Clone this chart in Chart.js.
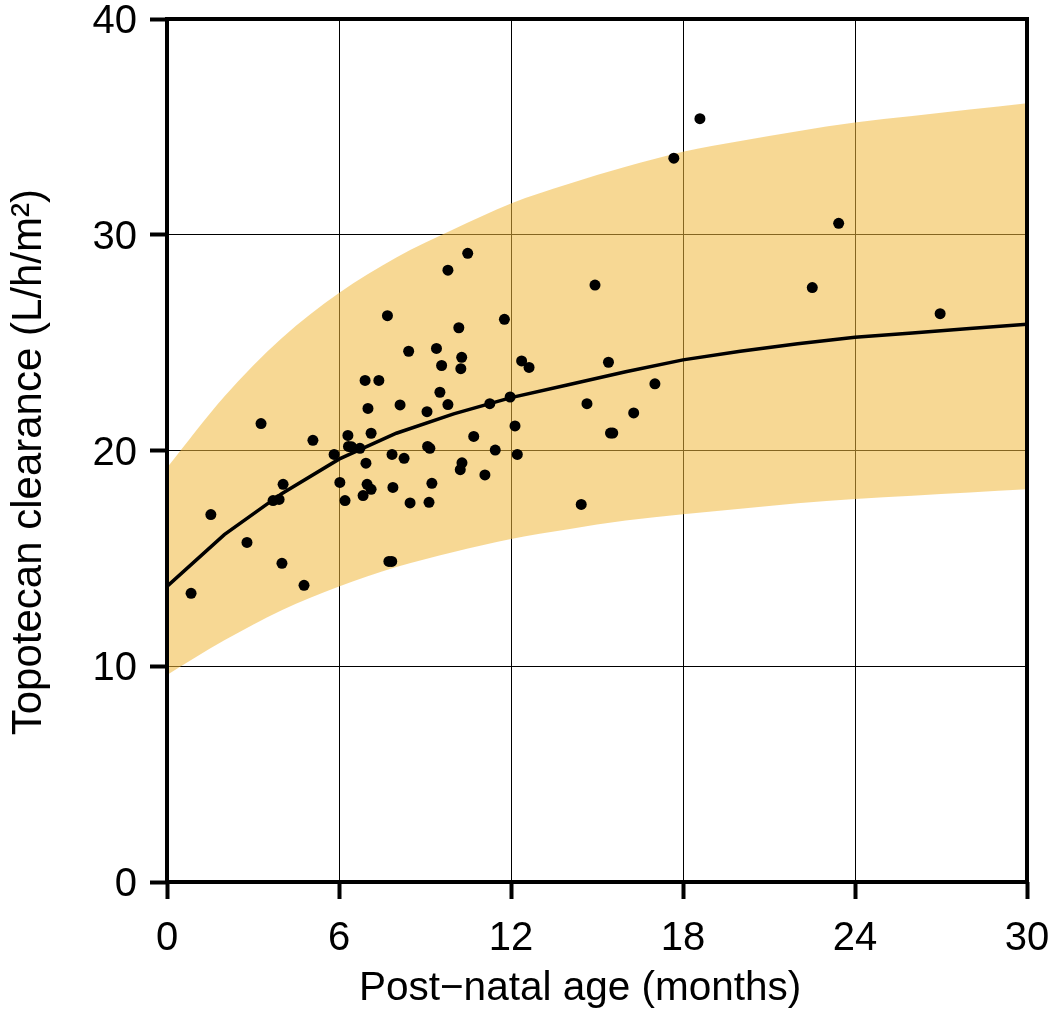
<!DOCTYPE html>
<html>
<head>
<meta charset="utf-8">
<script src="https://cdn.jsdelivr.net/npm/chart.js@4.4.1/dist/chart.umd.min.js"></script>
<style>
html,body{margin:0;padding:0;background:#fff;}
#wrap{width:1050px;height:1025px;}
</style>
</head>
<body>
<div id="wrap"><canvas id="c" width="1050" height="1025"></canvas></div>
<script>
// ---- data ----
const xTicks = [0, 6, 12, 18, 24, 30];
const yTicks = [0, 10, 20, 30, 40];
const xTitle = 'Post\u2212natal age (months)   ';
const yTitle = 'Topotecan clearance (L/h/m\u00B2)  ';

// observed individual clearances
const ageMonths = [0.84, 1.53, 2.79, 3.28, 3.70, 3.91, 4.05, 4.01, 4.78, 5.09,
  5.83, 6.03, 6.21, 6.31, 6.33, 6.44, 6.73, 6.84, 6.91, 6.94,
  6.98, 7.01, 7.12, 7.12, 7.39, 7.69, 7.74, 7.84, 7.85, 7.88,
  8.13, 8.27, 8.43, 8.48, 9.07, 9.09, 9.17, 9.14, 9.24, 9.40,
  9.58, 9.52, 9.80, 9.80, 10.18, 10.28, 10.25, 10.29, 10.23, 10.49,
  10.70, 11.09, 11.26, 11.45, 11.77, 11.97, 12.14, 12.22, 12.37, 12.63,
  14.45, 14.65, 14.93, 15.40, 15.47, 15.55, 16.28, 17.02, 17.68, 18.59,
  22.51, 23.43, 26.97];
const clearance = [13.38, 17.03, 15.74, 21.25, 17.68, 17.73, 18.43, 14.77, 13.75, 20.47,
  19.82, 18.52, 17.68, 20.70, 20.19, 20.17, 20.10, 17.91, 23.25, 19.41,
  18.43, 21.95, 20.80, 18.20, 23.25, 26.25, 14.86, 14.86, 19.82, 18.29,
  22.11, 19.64, 24.60, 17.57, 21.80, 20.19, 20.10, 17.60, 18.48, 24.73,
  23.94, 22.70, 22.13, 28.36, 25.69, 24.32, 23.79, 19.43, 19.11, 29.14,
  20.65, 18.87, 22.17, 20.02, 26.08, 22.48, 21.14, 19.82, 24.15, 23.85,
  17.50, 22.17, 27.67, 24.09, 20.81, 20.81, 21.74, 23.09, 33.55, 35.38,
  27.55, 30.53, 26.34];

// model curve and prediction band
const curveAge = [0, 2, 4, 6, 8, 10, 12, 14, 16, 18, 20, 22, 24, 26, 28, 30];
const medianCL = [13.7, 16.1, 18.0, 19.6, 20.8, 21.7, 22.45, 23.05, 23.65, 24.2, 24.6, 24.95, 25.25, 25.45, 25.65, 25.85];
const upperCL  = [19.2, 22.5, 25.2, 27.3, 28.95, 30.25, 31.45, 32.35, 33.15, 33.85, 34.35, 34.8, 35.2, 35.5, 35.8, 36.1];
const lowerCL  = [9.6, 11.2, 12.6, 13.7, 14.6, 15.3, 15.9, 16.35, 16.75, 17.05, 17.3, 17.55, 17.75, 17.9, 18.05, 18.2];

// ---- build ----
const toXY = (xs, ys) => xs.map((x, i) => ({x: x, y: ys[i]}));
const FONT = "'Liberation Sans', Arial, Helvetica, sans-serif";
Chart.defaults.font.family = FONT;
Chart.defaults.color = '#000';

const framePlugin = {
  id: 'frame',
  afterDatasetsDraw(chart) {
    const {ctx, chartArea: a} = chart;
    ctx.save();
    ctx.strokeStyle = '#000';
    ctx.lineWidth = 4;
    ctx.strokeRect(a.left, a.top, a.right - a.left, a.bottom - a.top);
    ctx.restore();
  }
};

new Chart(document.getElementById('c'), {
  type: 'scatter',
  data: {
    datasets: [
      {
        label: 'Observed',
        data: toXY(ageMonths, clearance),
        pointRadius: 5.5,
        pointBackgroundColor: '#000',
        pointBorderWidth: 0,
        showLine: false,
        order: 0
      },
      {
        label: 'Median',
        type: 'line',
        data: toXY(curveAge, medianCL),
        borderColor: '#000',
        borderWidth: 3.5,
        pointRadius: 0,
        tension: 0,
        fill: false,
        order: 1
      },
      {
        label: 'Lower',
        type: 'line',
        data: toXY(curveAge, lowerCL),
        borderWidth: 0,
        borderColor: 'rgba(0,0,0,0)',
        pointRadius: 0,
        cubicInterpolationMode: 'monotone',
        fill: false,
        order: 3
      },
      {
        label: 'Upper',
        type: 'line',
        data: toXY(curveAge, upperCL),
        borderWidth: 0,
        borderColor: 'rgba(0,0,0,0)',
        backgroundColor: 'rgba(240,184,60,0.55)',
        pointRadius: 0,
        cubicInterpolationMode: 'monotone',
        fill: 2,
        order: 2
      }
    ]
  },
  options: {
    responsive: false,
    animation: false,
    layout: {padding: {top: 19, right: 23, left: 0, bottom: 0}},
    plugins: {legend: {display: false}, tooltip: {enabled: false}},
    scales: {
      x: {
        type: 'linear',
        min: 0, max: 30,
        afterBuildTicks: s => { s.ticks = xTicks.map(v => ({value: v})); },
        afterFit: s => { s.height = 143; s.paddingLeft = 0; s.paddingRight = 0; },
        grid: {color: '#000', lineWidth: 1, tickLength: 17, tickWidth: 4, tickColor: '#000'},
        border: {display: false},
        ticks: {font: {size: 40}, padding: 16, maxRotation: 0, autoSkip: false},
        title: {display: true, text: xTitle, font: {size: 40.5}, padding: {top: 0, bottom: 12}}
      },
      y: {
        type: 'linear',
        min: 0, max: 40,
        afterBuildTicks: s => { s.ticks = yTicks.map(v => ({value: v})); },
        afterFit: s => { s.width = 167; s.paddingTop = 0; s.paddingBottom = 0; },
        grid: {color: '#000', lineWidth: 1, tickLength: 17, tickWidth: 4, tickColor: '#000'},
        border: {display: false},
        ticks: {font: {size: 40}, padding: 13, labelOffset: 3, autoSkip: false},
        title: {display: true, text: yTitle, font: {size: 42}, padding: {top: 4, bottom: 0}}
      }
    }
  },
  plugins: [framePlugin]
});
</script>
</body>
</html>
